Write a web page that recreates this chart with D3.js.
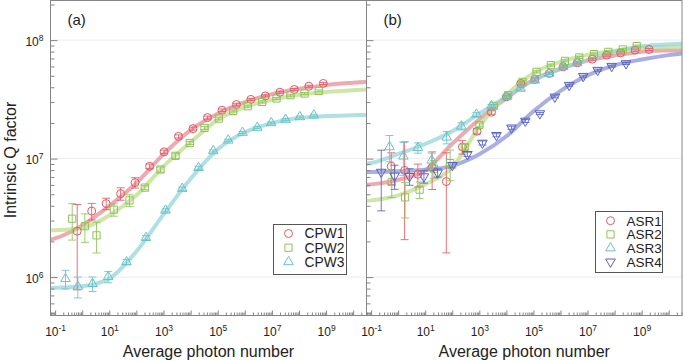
<!DOCTYPE html>
<html>
<head>
<meta charset="utf-8">
<script src="https://cdn.jsdelivr.net/npm/d3@7"></script>
<style>
  body { margin: 0; background: #fff; }
  svg { display: block; font-family: "Liberation Sans", Arial, Helvetica, sans-serif; }
</style>
</head>
<body>
<svg id="chart" width="685" height="361"></svg>
<script>
// ---- panel (a): CPW resonators ----
const cpw1N = [0.654, 2.24, 7.68, 26.1, 89.5, 307, 1052, 3573, 12270, 42070, 1.442e5, 4.9e5, 1.679e6, 5.75e6, 1.972e7, 6.71e7, 2.3e8, 7.89e8];
const cpw1Q = [2.44e6, 3.61e6, 4.17e6, 5.06e6, 6.27e6, 8.61e6, 1.14e7, 1.54e7, 1.79e7, 2.22e7, 2.56e7, 2.86e7, 3.16e7, 3.38e7, 3.63e7, 3.83e7, 4.08e7, 4.31e7];
const cpw1Err = [0.68, 0.16, 0.11, 0.12, 0.1, 0.045, 0.035, 0.03, 0.03, 0.03, 0.025, 0.025, 0.02, 0.02, 0.02, 0.02, 0.02, 0.02];

const cpw2N = [0.428, 1.25, 3.37, 14.7, 55.6, 204, 774, 2773, 9330, 32600, 1.1e5, 3.73e5, 1.29e6, 4.39e6, 1.48e7, 4.85e7, 1.6e8, 5.38e8];
const cpw2Q = [3.11e6, 2.69e6, 2.25e6, 3.71e6, 4.44e6, 5.69e6, 8.09e6, 1.056e7, 1.355e7, 1.814e7, 2.178e7, 2.526e7, 2.768e7, 3.01e7, 3.216e7, 3.43e7, 3.544e7, 3.73e7];
const cpw2Err = [0.34, 0.27, 0.29, 0.12, 0.115, 0.04, 0.05, 0.05, 0.03, 0.03, 0.025, 0.02, 0.02, 0.02, 0.02, 0.02, 0.02, 0.02];

const cpw3N = [0.242, 0.689, 2.4, 9.1, 43.1, 226, 1186, 4898, 19590, 68230, 2.44e5, 8.22e5, 2.87e6, 9.42e6, 3.18e7, 1.07e8, 3.52e8];
const cpw3Q = [9.67e5, 8.33e5, 8.78e5, 1.006e6, 1.342e6, 2.149e6, 3.656e6, 5.58e6, 8.36e6, 1.16e7, 1.428e7, 1.659e7, 1.828e7, 2.0e7, 2.136e7, 2.247e7, 2.323e7];
const cpw3Err = [0.18, 0.2, 0.14, 0.11, 0.05, 0.04, 0.03, 0.03, 0.03, 0.02, 0.02, 0.02, 0.02, 0.02, 0.02, 0.02, 0.02];

// fitted curves, read at the same photon numbers
const fitN = [0.0676, 0.1, 1, 10, 100, 1e3, 1e4, 1e5, 1e6, 1e7, 1e8, 1e9, 1e10, 3.1e10];
const cpw1Fit = [2.07e6, 2.12e6, 2.73e6, 3.99e6, 6.22e6, 1.09e7, 1.74e7, 2.39e7, 2.99e7, 3.5e7, 3.89e7, 4.17e7, 4.37e7, 4.46e7];
const cpw2Fit = [2.48e6, 2.49e6, 2.6e6, 3.32e6, 4.9e6, 8.61e6, 1.373e7, 2.128e7, 2.714e7, 3.14e7, 3.46e7, 3.65e7, 3.78e7, 3.83e7];
const cpw3Fit = [8.09e5, 8.12e5, 8.36e5, 9.73e5, 1.646e6, 3.38e6, 6.75e6, 1.198e7, 1.668e7, 1.995e7, 2.2e7, 2.288e7, 2.323e7, 2.337e7];

// ---- panel (b): ASR resonators ----
const asr1N = [0.554, 1.73, 5.37, 18.0, 60.4, 237, 822, 2806, 10090, 34120, 1.127e5, 3.81e5, 1.259e6, 4.16e6, 1.493e7, 5.09e7, 1.683e8, 5.7e8, 1.88e9];
const asr1Q = [8.61e6, 7.96e6, 7.37e6, 8.44e6, 6.4e6, 1.254e7, 1.701e7, 2.463e7, 3.32e7, 4.31e7, 4.65e7, 5.23e7, 5.95e7, 6.43e7, 6.91e7, 7.47e7, 7.81e7, 8.23e7, 8.34e7];
const asr1Err = [0.3, 0.74, 0.22, 0.35, 0.75, 0.13, 0.05, 0.04, 0.03, 0.03, 0.03, 0.02, 0.02, 0.02, 0.02, 0.02, 0.02, 0.02, 0.02];

const asr2N = [0.579, 1.8, 6.21, 21.0, 83.6, 288, 1009, 3412, 11560, 39450, 1.303e5, 4.41e5, 1.455e6, 4.93e6, 1.726e7, 5.85e7, 2.0e8, 6.59e8];
const asr2Q = [6.34e6, 4.71e6, 5.47e6, 8.23e6, 9.16e6, 1.254e7, 1.923e7, 2.78e7, 3.43e7, 4.44e7, 5.4e7, 6.15e7, 6.68e7, 7.14e7, 7.62e7, 7.96e7, 8.34e7, 8.9e7];
const asr2Err = [0.26, 0.33, 0.16, 0.17, 0.29, 0.05, 0.04, 0.03, 0.03, 0.03, 0.02, 0.02, 0.02, 0.02, 0.02, 0.02, 0.02, 0.02];

const asr3N = [0.48, 1.56, 5.37, 17.3, 62.1, 217, 781, 2806, 10090, 33270, 1.127e5, 3.81e5, 1.259e6, 4.16e6];
const asr3Q = [1.254e7, 1.046e7, 1.234e7, 9.67e6, 1.514e7, 1.875e7, 2.36e7, 2.78e7, 3.32e7, 3.91e7, 4.59e7, 5.23e7, 5.95e7, 6.43e7];
const asr3Err = [0.25, 0.31, 0.1, 0.15, 0.12, 0.07, 0.04, 0.03, 0.03, 0.03, 0.03, 0.02, 0.02, 0.02];

const asr4N = [0.237, 0.736, 2.64, 8.95, 28.8, 101, 362, 1303, 4295, 15450, 50120, 1.726e5, 6.21e5, 2.1e6, 6.93e6, 2.37e7, 7.82e7, 2.64e8];
const asr4Q = [7.7e6, 7.15e6, 7.09e6, 7.05e6, 7.59e6, 8.78e6, 1.088e7, 1.355e7, 1.574e7, 1.821e7, 2.079e7, 2.4e7, 3.32e7, 4.165e7, 4.96e7, 5.58e7, 6.03e7, 6.35e7];
const asr4Err = [0.53, 0.23, 0.16, 0.12, 0.08, 0.05, 0.04, 0.04, 0.03, 0.03, 0.03, 0.02, 0.02, 0.02, 0.02, 0.02, 0.02, 0.02];

const asr1Fit = [6.0e6, 6.06e6, 6.62e6, 7.96e6, 1.334e7, 2.149e7, 3.234e7, 4.62e7, 5.74e7, 6.71e7, 7.41e7, 7.99e7, 8.18e7, 8.23e7];
const asr2Fit = [4.4e6, 4.44e6, 4.9e6, 6.06e6, 8.44e6, 1.857e7, 3.43e7, 5.26e7, 6.56e7, 7.51e7, 8.15e7, 8.64e7, 8.76e7, 8.81e7];
const asr3Fit = [9.04e6, 9.18e6, 1.094e7, 1.329e7, 1.701e7, 2.4e7, 3.32e7, 4.58e7, 5.7e7, 6.8e7, 7.98e7, 8.86e7, 9.21e7, 9.34e7];
const asr4Fit = [7.69e6, 7.7e6, 7.81e6, 8.04e6, 8.69e6, 1.088e7, 1.543e7, 2.51e7, 3.73e7, 5.04e7, 6.13e7, 6.86e7, 7.47e7, 7.72e7];

// axis ranges and tick labels
const xDomain = [0.0676, 3.1e10];
const yDomain = [4.74e5, 2.16e8];
const xMajor = [0.1, 1, 10, 100, 1e3, 1e4, 1e5, 1e6, 1e7, 1e8, 1e9, 1e10];
const yMajor = [1e6, 1e7, 1e8];

const red = { mark: "#e05a66", line: "#e98c95" };
const green = { mark: "#8ec456", line: "#bedf8c" };
const cyan = { mark: "#66c4c8", line: "#95d5d9" };
const blue = { mark: "#5860c4", line: "#8e94d8" };

const plotTop = 0.5;
const plotBottom = 315.5;
const axisColor = "#858585";

const svg = d3.select("#chart");

const y = d3.scaleLog().domain(yDomain).range([plotBottom, plotTop]);

function minorTicks(lo, hi) {
  var out = [];
  for (var e = -2; e <= 10; e++) {
    for (var m = 2; m <= 9; m++) {
      var v = m * Math.pow(10, e);
      if (v > lo && v < hi) out.push(v);
    }
  }
  return out;
}

function superscript(sel) {
  sel.selectAll("text").each(function() {
    var e = this.textContent;
    if (!e) return;
    var t = d3.select(this).text("");
    t.append("tspan").text("10");
    t.append("tspan")
      .attr("dy", "-0.55em")
      .attr("font-size", "8.5px")
      .text(e);
  });
}

function drawPanel(opts) {
  const x = d3.scaleLog().domain(xDomain).range([opts.x0, opts.x1]);
  const g = svg.append("g");

  // faint horizontal grid
  g.selectAll(".grid")
    .data(yMajor)
    .enter()
    .append("line")
    .attr("x1", opts.x0)
    .attr("x2", opts.x1)
    .attr("y1", d => y(d))
    .attr("y2", d => y(d))
    .attr("stroke", "#ededed")
    .attr("stroke-width", 1);

  // clip for fitted curves
  svg
    .append("clipPath")
    .attr("id", "clip-" + opts.tag)
    .append("rect")
    .attr("x", opts.x0)
    .attr("y", plotTop)
    .attr("width", opts.x1 - opts.x0)
    .attr("height", plotBottom - plotTop);

  const line = d3
    .line()
    .x(d => x(d[0]))
    .y(d => y(d[1]))
    .curve(d3.curveMonotoneX);

  const fits = g.append("g").attr("clip-path", "url(#clip-" + opts.tag + ")");
  opts.series.forEach(function(s) {
    fits
      .append("path")
      .datum(fitN.map((n, i) => [n, s.fit[i]]))
      .attr("d", line)
      .attr("fill", "none")
      .attr("stroke", s.color.line)
      .attr("stroke-opacity", 0.75)
      .attr("stroke-width", 4)
      .attr("stroke-linecap", "round");
  });

  // error bars and markers
  opts.series.forEach(function(s) {
    var pts = s.n.map((n, i) => ({ n: n, q: s.q[i], e: s.err[i] }));
    var eg = g.append("g").attr("stroke", s.color.mark).attr("stroke-width", 1).attr("stroke-opacity", 0.85);
    pts.forEach(function(d) {
      var cx = x(d.n);
      var yHi = y(d.q * (1 + d.e));
      var yLo = y(d.q * (1 - d.e));
      eg.append("line").attr("x1", cx).attr("x2", cx).attr("y1", yHi).attr("y2", yLo);
      eg.append("line").attr("x1", cx - 4).attr("x2", cx + 4).attr("y1", yHi).attr("y2", yHi);
      eg.append("line").attr("x1", cx - 4).attr("x2", cx + 4).attr("y1", yLo).attr("y2", yLo);
    });

    g.append("g")
      .selectAll("path")
      .data(pts)
      .enter()
      .append("path")
      .attr("d", s.symbol)
      .attr("transform", d => "translate(" + x(d.n) + "," + y(d.q) + ")" + (s.flip ? " rotate(180)" : ""))
      .attr("fill", "none")
      .attr("stroke", s.color.mark)
      .attr("stroke-width", 1);
  });

  // x ticks (inward)
  g.append("g")
    .attr("transform", "translate(0," + plotBottom + ")")
    .call(d3.axisBottom(x).tickValues(minorTicks(xDomain[0], xDomain[1])).tickSize(-3).tickSizeOuter(0).tickFormat(""))
    .call(a => a.select(".domain").remove())
    .call(a => a.selectAll("line").attr("stroke", axisColor));

  g.append("g")
    .attr("transform", "translate(0," + plotBottom + ")")
    .call(
      d3.axisBottom(x)
        .tickValues(xMajor)
        .tickSize(-5)
        .tickSizeOuter(0)
        .tickPadding(12)
        .tickFormat(d => {
          var e = Math.round(Math.log10(d));
          return e % 2 ? String(e) : "";
        })
    )
    .attr("font-size", 12)
    .attr("font-family", null)
    .call(a => a.select(".domain").remove())
    .call(a => a.selectAll("line").attr("stroke", axisColor))
    .call(a => a.selectAll("text").attr("fill", "#222"))
    .call(superscript);

  // y ticks (inward)
  g.append("g")
    .attr("transform", "translate(" + opts.x0 + ",0)")
    .call(d3.axisLeft(y).tickValues(minorTicks(yDomain[0], yDomain[1])).tickSize(-4).tickSizeOuter(0).tickFormat(""))
    .call(a => a.select(".domain").remove())
    .call(a => a.selectAll("line").attr("stroke", axisColor));

  g.append("g")
    .attr("transform", "translate(" + opts.x0 + ",0)")
    .call(
      d3.axisLeft(y)
        .tickValues(yMajor)
        .tickSize(-7)
        .tickSizeOuter(0)
        .tickPadding(7)
        .tickFormat(d => (opts.yLabels ? String(Math.round(Math.log10(d))) : ""))
    )
    .attr("font-size", 12)
    .attr("font-family", null)
    .call(a => a.select(".domain").remove())
    .call(a => a.selectAll("line").attr("stroke", axisColor))
    .call(a => a.selectAll("text").attr("fill", "#222").attr("dy", "0.42em"))
    .call(superscript);

  // frame
  g.append("rect")
    .attr("x", opts.x0)
    .attr("y", plotTop)
    .attr("width", opts.x1 - opts.x0)
    .attr("height", plotBottom - plotTop)
    .attr("fill", "none")
    .attr("stroke", axisColor)
    .attr("stroke-width", 1);

  // panel tag
  g.append("text")
    .attr("x", opts.x0 + 17)
    .attr("y", 25)
    .attr("font-size", "15px")
    .attr("fill", "#222")
    .text("(" + opts.tag + ")");

  // x title
  g.append("text")
    .attr("x", (opts.x0 + opts.x1) / 2)
    .attr("y", 356.5)
    .attr("text-anchor", "middle")
    .attr("font-size", "16px")
    .attr("fill", "#222")
    .text("Average photon number");

  // legend
  var lg = opts.legend;
  g.append("rect")
    .attr("x", lg.x)
    .attr("y", lg.y)
    .attr("width", lg.w)
    .attr("height", lg.h)
    .attr("fill", "#fff")
    .attr("stroke", "#555")
    .attr("stroke-width", 1);

  var item = g
    .selectAll(".legend-" + opts.tag)
    .data(opts.series)
    .enter()
    .append("g")
    .attr("transform", (d, i) => "translate(" + (lg.x + 15) + "," + (lg.y + lg.first + i * lg.step) + ")");

  item
    .append("path")
    .attr("d", d => d.symbol())
    .attr("transform", d => (d.flip ? "rotate(180)" : null))
    .attr("fill", "none")
    .attr("stroke", d => d.color.mark)
    .attr("stroke-width", 1);

  item
    .append("text")
    .attr("x", 16)
    .attr("dy", "0.36em")
    .attr("font-size", lg.font)
    .attr("fill", "#222")
    .text(d => d.name);
}

const circle = d3.symbol().type(d3.symbolCircle).size(50);
const square = d3.symbol().type(d3.symbolSquare).size(52);
const triangle = d3.symbol().type(d3.symbolTriangle).size(40);

drawPanel({
  tag: "a",
  x0: 50.5,
  x1: 366.5,
  yLabels: true,
  legend: { x: 273.5, y: 224.5, w: 73, h: 50, first: 9, step: 14.2, font: "13.8px" },
  series: [
    { name: "CPW1", n: cpw1N, q: cpw1Q, err: cpw1Err, fit: cpw1Fit, color: red, symbol: circle },
    { name: "CPW2", n: cpw2N, q: cpw2Q, err: cpw2Err, fit: cpw2Fit, color: green, symbol: square },
    { name: "CPW3", n: cpw3N, q: cpw3Q, err: cpw3Err, fit: cpw3Fit, color: cyan, symbol: triangle }
  ]
});

drawPanel({
  tag: "b",
  x0: 366.5,
  x1: 682,
  yLabels: false,
  legend: { x: 595.5, y: 211.5, w: 67, h: 61, first: 9.2, step: 13.7, font: "13.5px" },
  series: [
    { name: "ASR1", n: asr1N, q: asr1Q, err: asr1Err, fit: asr1Fit, color: red, symbol: circle },
    { name: "ASR2", n: asr2N, q: asr2Q, err: asr2Err, fit: asr2Fit, color: green, symbol: square },
    { name: "ASR3", n: asr3N, q: asr3Q, err: asr3Err, fit: asr3Fit, color: cyan, symbol: triangle },
    { name: "ASR4", n: asr4N, q: asr4Q, err: asr4Err, fit: asr4Fit, color: blue, symbol: triangle, flip: true }
  ]
});

// y title
svg
  .append("text")
  .attr("transform", "translate(16,160) rotate(-90)")
  .attr("text-anchor", "middle")
  .attr("font-size", "16px")
  .attr("fill", "#222")
  .text("Intrinsic Q factor");
</script>
</body>
</html>
